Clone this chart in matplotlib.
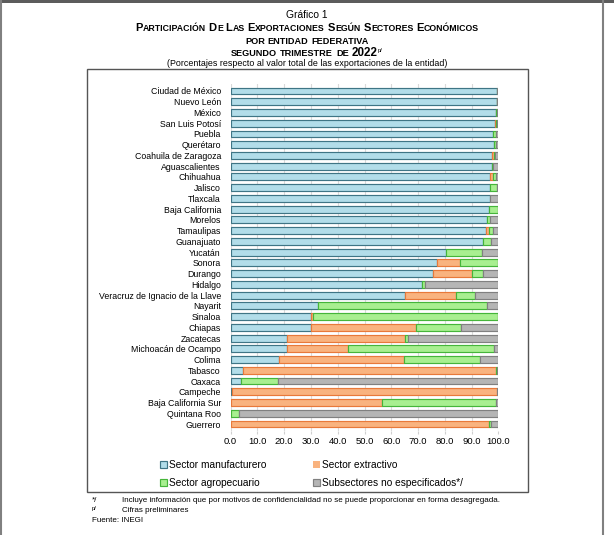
import matplotlib
matplotlib.use("Agg")
import matplotlib.pyplot as plt
from matplotlib.patches import Rectangle
from matplotlib.lines import Line2D
import numpy as np

plt.rcParams['font.family'] = ['Liberation Sans', 'DejaVu Sans']

states = ["Ciudad de México", "Nuevo León", "México", "San Luis Potosí", "Puebla",
          "Querétaro", "Coahuila de Zaragoza", "Aguascalientes", "Chihuahua", "Jalisco",
          "Tlaxcala", "Baja California", "Morelos", "Tamaulipas", "Guanajuato",
          "Yucatán", "Sonora", "Durango", "Hidalgo", "Veracruz de Ignacio de la Llave",
          "Nayarit", "Sinaloa", "Chiapas", "Zacatecas", "Michoacán de Ocampo",
          "Colima", "Tabasco", "Oaxaca", "Campeche", "Baja California Sur",
          "Quintana Roo", "Guerrero"]
manuf = [99.3, 99.3, 99.0, 98.8, 98.0, 98.3, 97.5, 97.5, 97.0, 97.0, 96.8, 96.5, 95.9, 95.5,
         94.3, 80.6, 77.1, 75.4, 71.6, 65.0, 32.7, 30.0, 29.9, 21.1, 21.1, 18.0, 4.7, 3.9,
         0.5, 0.2, 0.1, 0.0]
extract = [0.0, 0.1, 0.1, 0.2, 0.0, 0.0, 1.0, 0.0, 0.8, 0.0, 0.0, 0.0, 0.0, 1.0, 0.0, 0.0,
           8.5, 14.9, 0.0, 19.0, 0.0, 0.9, 39.5, 44.1, 22.9, 46.8, 94.3, 0.0, 99.1, 56.5,
           0.0, 96.5]
agro = [0.3, 0.2, 0.3, 0.4, 1.2, 0.8, 0.3, 0.3, 1.2, 2.6, 0.0, 3.3, 1.0, 1.5, 2.9, 13.4,
        14.3, 4.0, 0.9, 7.2, 63.1, 68.8, 16.8, 1.1, 54.4, 28.2, 0.6, 13.9, 0.0, 42.3, 2.9, 0.9]
other = [0.4, 0.4, 0.6, 0.6, 0.8, 0.9, 1.2, 2.2, 1.0, 0.4, 3.2, 0.2, 3.1, 2.0, 2.8, 6.0,
         0.1, 5.7, 27.5, 8.8, 4.2, 0.3, 13.8, 33.7, 1.6, 7.0, 0.4, 82.2, 0.4, 1.0, 97.0, 2.6]
series_names = ["Sector manufacturero", "Sector extractivo", "Sector agropecuario",
                "Subsectores no especificados*/"]
xticks = [0, 10, 20, 30, 40, 50, 60, 70, 80, 90, 100]

fills = ["#b2dde9", "#f9b37f", "#a8ef90", "#b5b5b5"]
edges = ["#3f7585", "#e8793a", "#45b53a", "#808080"]

W, H = 614, 535
fig = plt.figure(figsize=(W / 100, H / 100), dpi=100)

def fx(px):
    return px / W

def fy(py):
    return 1 - py / H

# page frame
fig.add_artist(Rectangle((0, fy(3)), 1, 3 / H, transform=fig.transFigure,
                         facecolor="#5c5c5c", edgecolor="none"))
fig.add_artist(Line2D([fx(1.5), fx(1.5)], [0, 1], transform=fig.transFigure,
                      color="#808080", lw=1.5))
fig.add_artist(Line2D([fx(603), fx(603)], [0, 1], transform=fig.transFigure,
                      color="#808080", lw=1.5))
# inner chart box
fig.add_artist(Rectangle((fx(87), fy(492)), fx(528) - fx(87), fy(69) - fy(492),
                         transform=fig.transFigure, facecolor="none",
                         edgecolor="#555555", lw=1.0))

ax = fig.add_axes([fx(230.6), fy(431), fx(498.4) - fx(230.6), fy(84) - fy(431)])
y = np.arange(len(states))
left = np.zeros(len(states))
handles = []
for vals, fc, ec, name in zip([manuf, extract, agro, other], fills, edges, series_names):
    v = np.array(vals)
    lws = [0.85 if t > 0 else 0 for t in v]
    b = ax.barh(y, v, left=left, height=0.64, color=fc, edgecolor=ec, linewidth=lws,
                label=name, zorder=3)
    handles.append(b)
    left = left + v

ax.set_xlim(0, 100)
ax.set_ylim(len(states) - 0.35, -0.65)
ax.set_xticks(xticks)
ax.set_xticklabels([f"{t:.1f}" for t in xticks], fontsize=6.8)
ax.set_yticks(y)
ax.set_yticklabels(states, fontsize=6.35)
ax.tick_params(axis='y', length=0, pad=7)
ax.tick_params(axis='x', length=2, color="#d0d0d0", pad=2.5)
for s in ax.spines.values():
    s.set_visible(False)
ax.grid(axis='x', color="#dadada", lw=0.8, zorder=0)
ax.set_axisbelow(True)

# legend
order = [0, 2, 1, 3]
leg = fig.legend([handles[i] for i in order], [series_names[i] for i in order],
                 ncol=2, loc='upper left', bbox_to_anchor=(fx(155), fy(455)),
                 frameon=False, fontsize=7.3, handlelength=0.7, handleheight=0.7,
                 handletextpad=0.2, columnspacing=4.6, labelspacing=0.75, borderpad=0)

# titles
r = fig.canvas.get_renderer()

def draw_runs(y_base, runs, gap_px=2.4):
    items = []
    total = 0
    for s, size, bold, dy, space_after in runs:
        t = fig.text(0, fy(y_base + dy), s, fontsize=size,
                     fontweight='bold' if bold else 'normal', va='baseline', ha='left')
        w = t.get_window_extent(renderer=r).width
        g = gap_px if space_after else 0.4
        items.append((t, w, g))
        total += w + g
    total -= items[-1][2]
    x = W / 2 - total / 2
    for t, w, g in items:
        t.set_x(fx(x))
        x += w + g

fig.text(0.5, fy(18), "Gráfico 1", fontsize=7.4, ha='center', va='baseline')

words2 = "PARTICIPACIÓN DE LAS EXPORTACIONES SEGÚN SECTORES ECONÓMICOS".split()
runs2 = []
for wd in words2:
    runs2.append((wd[0], 8.0, True, 0, False))
    runs2.append((wd[1:], 6.35, True, 0, True))
draw_runs(31, runs2, gap_px=2.6)

draw_runs(44, [(w, 6.6, True, 0, True) for w in "POR ENTIDAD FEDERATIVA".split()], gap_px=2.8)
draw_runs(56, [("SEGUNDO", 6.6, True, 0, True), ("TRIMESTRE", 6.6, True, 0, True),
               ("DE", 6.6, True, 0, True), ("2022", 8.4, True, 0, False),
               ("p/", 4.2, False, -4, False)], gap_px=2.8)
fig.text(0.5, fy(66.5), "(Porcentajes respecto al valor total de las exportaciones de la entidad)",
         fontsize=6.4, ha='center', va='baseline')

# footnotes
fs = 5.75
fig.text(fx(92), fy(502), "*/", fontsize=fs, va='baseline')
fig.text(fx(122), fy(502), "Incluye información que por motivos de confidencialidad no se puede "
         "proporcionar en forma desagregada.", fontsize=fs, va='baseline')
fig.text(fx(92), fy(510), "p/", fontsize=4.3, va='baseline')
fig.text(fx(122), fy(512), "Cifras preliminares", fontsize=fs, va='baseline')
fig.text(fx(92), fy(522), "Fuente: INEGI", fontsize=fs, va='baseline')

fig.savefig("out.png", dpi=100, facecolor="white")
